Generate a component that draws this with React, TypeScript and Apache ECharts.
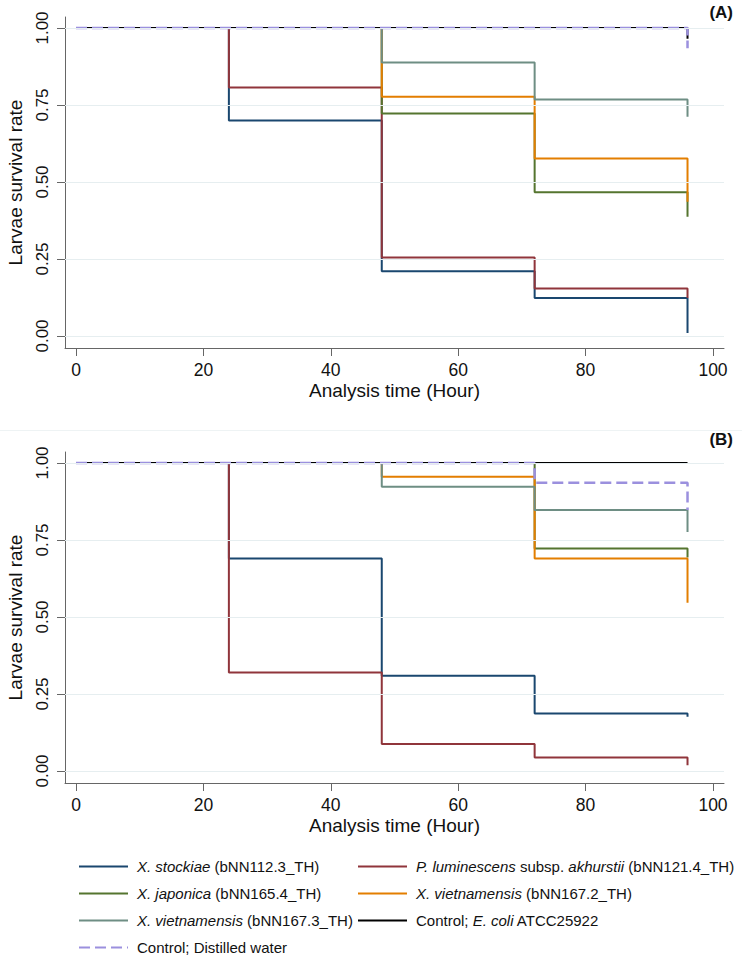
import React, { useEffect, useRef } from "react";
import * as echarts from "echarts";

const times = [0, 24, 48, 72, 96];
const xTicks = [0, 20, 40, 60, 80, 100];
const yTicks = [0, 0.25, 0.5, 0.75, 1];

const seriesNames = [
  "X. stockiae (bNN112.3_TH)",
  "P. luminescens subsp. akhurstii (bNN121.4_TH)",
  "X. japonica (bNN165.4_TH)",
  "X. vietnamensis (bNN167.2_TH)",
  "X. vietnamensis (bNN167.3_TH)",
  "Control; E. coli ATCC25922",
  "Control; Distilled water",
];
const legendRich = [
  "{i|X. stockiae} (bNN112.3_TH)",
  "{i|P. luminescens} subsp. {i|akhurstii} (bNN121.4_TH)",
  "{i|X. japonica} (bNN165.4_TH)",
  "{i|X. vietnamensis} (bNN167.2_TH)",
  "{i|X. vietnamensis} (bNN167.3_TH)",
  "Control; {i|E. coli} ATCC25922",
  "Control; Distilled water",
];
const colors = ["#1a476f", "#90353b", "#55752f", "#e37e00", "#6e8e84", "#000000", "#9b90de"];

// Panel A survival values at times
const panelA = [
  [1, 0.7, 0.21, 0.123, 0.01],
  [1, 0.807, 0.255, 0.154, 0.123],
  [1, 1, 0.722, 0.467, 0.387],
  [1, 1, 0.777, 0.576, 0.436],
  [1, 1, 0.888, 0.768, 0.712],
  [1, 1, 1, 1, 0.965],
  [1, 1, 1, 1, 0.934],
];
// Panel B survival values at times
const panelB = [
  [1, 0.69, 0.309, 0.187, 0.176],
  [1, 0.32, 0.088, 0.044, 0.019],
  [1, 1, 1, 0.722, 0.693],
  [1, 1, 0.955, 0.69, 0.546],
  [1, 1, 0.923, 0.847, 0.776],
  [1, 1, 1, 1, 1],
  [1, 1, 1, 0.936, 0.847],
];
const panelLabels = ["(A)", "(B)"];

const FONT = "Liberation Sans, Arial, sans-serif";

export default function App() {
  const ref = useRef<HTMLDivElement>(null);
  useEffect(() => {
    document.body.style.margin = "0";
    const chart = echarts.init(ref.current!, null, { renderer: "svg" });
    const grids = [
      { left: 65, top: 17, width: 659, height: 331, containLabel: false, outerBoundsMode: "none" },
      { left: 65, top: 452, width: 659, height: 331, containLabel: false, outerBoundsMode: "none" },
    ];
    const xAxes = grids.map((_, p) => ({
      type: "value",
      gridIndex: p,
      min: -1.727,
      max: 101.727,
      name: "Analysis time (Hour)",
      nameLocation: "middle",
      nameGap: 33,
      nameMoveOverlap: false,
      nameTextStyle: { fontSize: 19, color: "#111", fontFamily: FONT },
      axisLine: { show: true, onZero: false, lineStyle: { color: "#666", width: 1 } },
      axisTick: { show: true, customValues: xTicks, length: 8, lineStyle: { color: "#666" } },
      axisLabel: {
        customValues: xTicks,
        fontSize: 17.5,
        color: "#111",
        margin: 13,
        fontFamily: FONT,
      },
      splitLine: { show: false },
    }));
    const yAxes = grids.map((_, p) => ({
      type: "value",
      gridIndex: p,
      min: -0.039,
      max: 1.0357,
      name: "Larvae survival rate",
      nameLocation: "middle",
      nameGap: 40,
      nameMoveOverlap: false,
      nameTextStyle: { fontSize: 19, color: "#111", fontFamily: FONT },
      axisLine: { show: true, onZero: false, lineStyle: { color: "#666", width: 1 } },
      axisTick: { show: true, customValues: yTicks, length: 8, lineStyle: { color: "#666" } },
      axisLabel: {
        customValues: yTicks,
        rotate: 90,
        fontSize: 17,
        color: "#111",
        margin: 14,
        fontFamily: FONT,
        formatter: (v: number) => v.toFixed(2),
      },
      splitLine: { show: false },
    }));
    const series: any[] = [];
    [0, 1].forEach((p) => {
      series.push({
        type: "line",
        name: "grid" + p,
        xAxisIndex: p,
        yAxisIndex: p,
        data: [],
        silent: true,
        z: 0,
        markLine: {
          silent: true,
          symbol: "none",
          label: { show: false },
          lineStyle: { color: "#e6eef0", width: 1, type: "solid" },
          data: yTicks.map((v) => ({ yAxis: v })),
        },
      });
      const vals = p === 0 ? panelA : panelB;
      seriesNames.forEach((name, i) => {
        series.push({
          type: "line",
          name,
          xAxisIndex: p,
          yAxisIndex: p,
          step: "end",
          symbol: "none",
          z: 2,
          data: times.map((t, k) => [t, vals[i][k]]),
          itemStyle: { color: colors[i] },
          lineStyle: {
            color: colors[i],
            width: i === 6 ? 2.5 : 2,
            type: i === 6 ? [11, 5] : "solid",
          },
        });
      });
    });
    const legendBase = {
      orient: "vertical",
      top: 859,
      padding: 0,
      itemWidth: 49,
      itemHeight: 14,
      itemGap: 12,
      itemStyle: { opacity: 0 },
      formatter: (name: string) => legendRich[seriesNames.indexOf(name)],
      textStyle: {
        fontSize: 15,
        color: "#111",
        fontFamily: FONT,
        padding: [0, 0, 0, 4],
        rich: { i: { fontStyle: "italic", fontSize: 15, color: "#111", fontFamily: FONT } },
      },
      selectedMode: false,
    };
    chart.setOption({
      animation: false,
      backgroundColor: "#fff",
      grid: grids,
      xAxis: xAxes,
      yAxis: yAxes,
      series,
      legend: [
        { ...legendBase, left: 78, data: [seriesNames[0], seriesNames[2], seriesNames[4], seriesNames[6]] },
        { ...legendBase, left: 357, data: [seriesNames[1], seriesNames[3], seriesNames[5]] },
      ],
      graphic: [
        {
          type: "line",
          shape: { x1: 0, y1: 430.5, x2: 742, y2: 430.5 },
          style: { stroke: "#eef3f4", lineWidth: 1 },
        },
        {
          type: "text",
          right: 9,
          top: 4,
          style: { text: panelLabels[0], font: "bold 17px " + FONT, fill: "#111" },
        },
        {
          type: "text",
          right: 9,
          top: 431,
          style: { text: panelLabels[1], font: "bold 17px " + FONT, fill: "#111" },
        },
      ],
    });
    return () => chart.dispose();
  }, []);
  return <div ref={ref} style={{ width: 742, height: 959 }} />;
}
